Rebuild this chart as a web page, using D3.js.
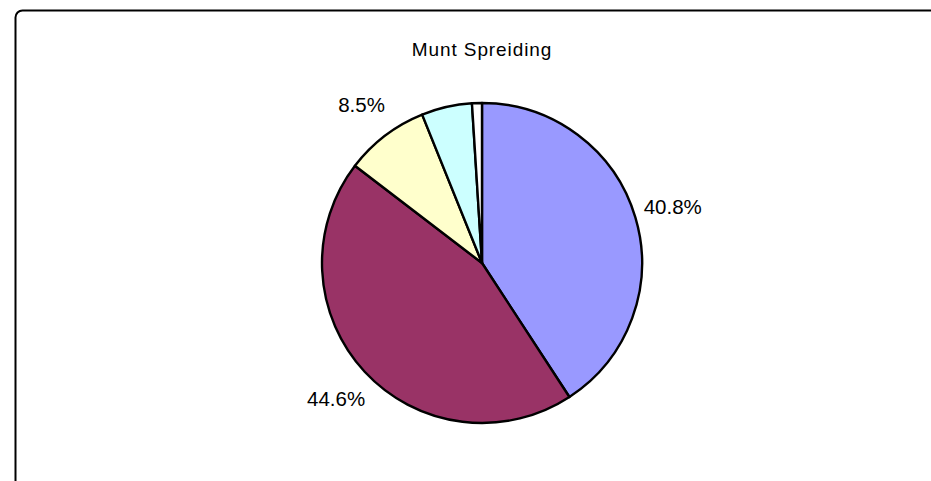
<!DOCTYPE html>
<html>
<head>
<meta charset="utf-8">
<script src="https://cdn.jsdelivr.net/npm/d3@7"></script>
<style>
  html, body { margin: 0; padding: 0; background: #fff; }
  svg { display: block; }
</style>
</head>
<body>
<svg width="931" height="481"></svg>
<script>
const title = 'Munt Spreiding'
const categories = ['A', 'B', 'C', 'D', 'E']
const values = [40.8, 44.6, 8.5, 5.1, 1.0]
const labels = ['40.8%', '44.6%', '8.5%', '', '']
const colors = ['#9999FF', '#993366', '#FFFFCC', '#CCFFFF', '#FFFFFF']

let svg = d3.select('svg')

// chart frame, runs off the right and bottom edges
svg.append('rect')
    .attr('x', 15.5)
    .attr('y', 10.5)
    .attr('width', 1200)
    .attr('height', 1200)
    .attr('rx', 7)
    .attr('fill', '#fff')
    .attr('stroke', '#000')
    .attr('stroke-width', 2)

svg.append('text')
    .text(title)
    .attr('x', 482)
    .attr('y', 56)
    .attr('text-anchor', 'middle')
    .attr('font-family', 'Liberation Sans, Arial, sans-serif')
    .attr('font-size', 19)
    .attr('letter-spacing', 0.9)
    .attr('fill', '#000')

let cx = 482, cy = 263, r = 160

let data = categories.map((c, i) => ({ cat: c, value: values[i], label: labels[i], color: colors[i] }))

let pie = d3.pie().value(d => d.value).sort(null)
let arc = d3.arc().innerRadius(0).outerRadius(r)
let labelArc = d3.arc().innerRadius(199).outerRadius(199)

let g = svg.append('g').attr('transform', 'translate(' + cx + ',' + cy + ')')

let arcs = pie(data)

g.selectAll('path')
    .data(arcs)
    .enter().append('path')
      .attr('d', arc)
      .attr('fill', d => d.data.color)
      .attr('stroke', '#000')
      .attr('stroke-width', 2.4)
      .attr('stroke-linejoin', 'round')

g.selectAll('text')
    .data(arcs.filter(d => d.data.label))
    .enter().append('text')
      .text(d => d.data.label)
      .attr('transform', d => 'translate(' + labelArc.centroid(d) + ')')
      .attr('text-anchor', 'middle')
      .attr('dy', '0.36em')
      .attr('font-family', 'Liberation Sans, Arial, sans-serif')
      .attr('font-size', 20.5)
      .attr('fill', '#000')
</script>
</body>
</html>
